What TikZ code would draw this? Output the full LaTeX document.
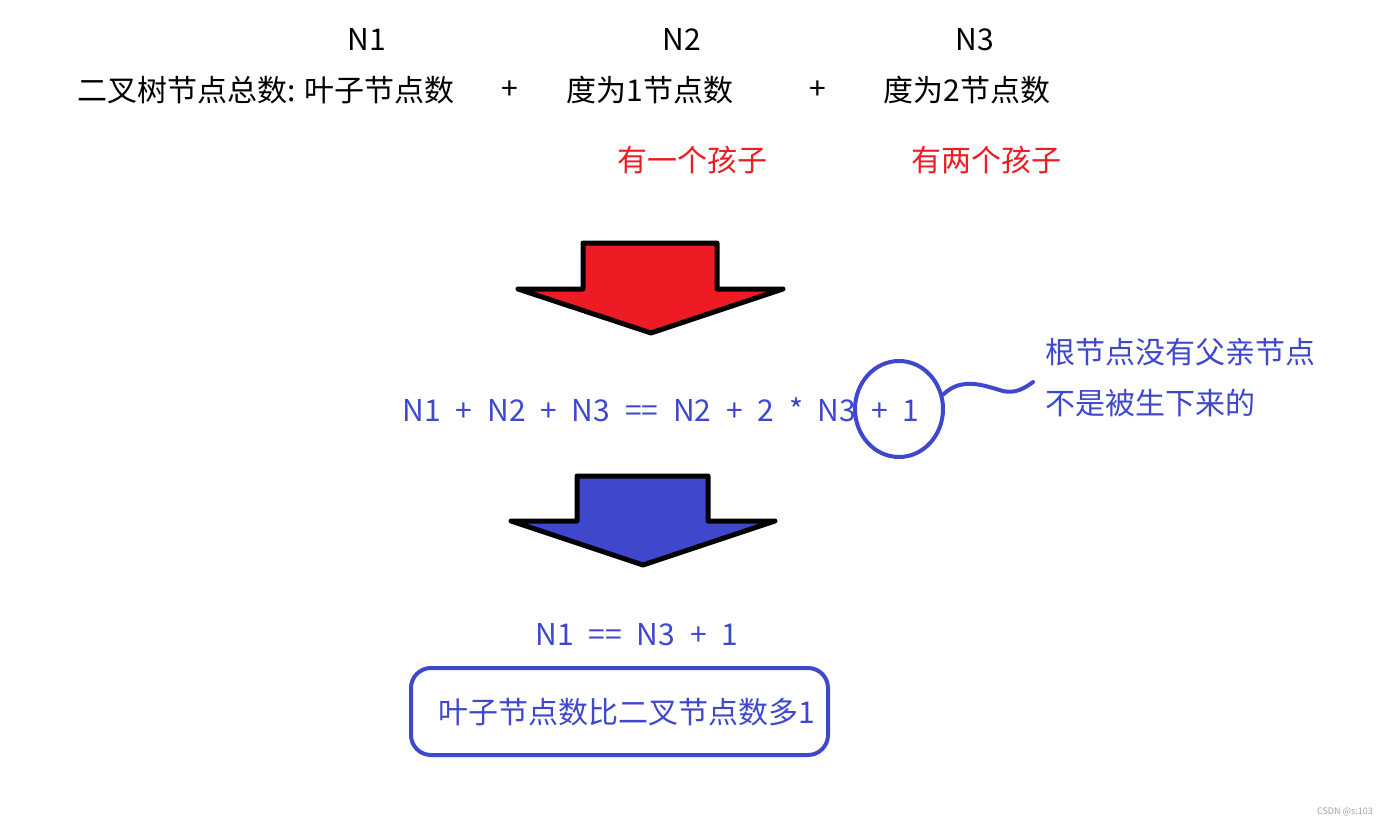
\documentclass[tikz,border=0pt]{standalone}
\usepackage{fontspec}
\setmainfont{Noto Sans CJK SC}
\newfontfamily\eqfont[WordSpace=2.2]{Noto Sans CJK SC}
\usetikzlibrary{shapes.geometric}
\definecolor{pblue}{HTML}{3F48CC}
\definecolor{pred}{HTML}{ED1C24}
\definecolor{wmgray}{HTML}{A0A0A0}
\begin{document}
\begin{tikzpicture}[x=1pt,y=-1pt,
  txt/.style={inner sep=0pt, font=\fontsize{30}{36}\selectfont},
  eqtxt/.style={inner sep=0pt, text=pblue, font=\eqfont\fontsize{30}{36}\selectfont},
  bigarrow/.style={draw=black, line width=5pt, line join=round},
  bluepen/.style={draw=pblue, line width=4pt}]
\useasboundingbox[fill=white] (0,0) rectangle (1400,824);

% top row
\node[txt] (n1) at (367,40) {N1};
\node[txt] (n2) at (682,40) {N2};
\node[txt] (n3) at (975,40) {N3};
\node[txt,anchor=west] (total) at (77,90) {二叉树节点总数: 叶子节点数};
\node[txt] (p1) at (510,90) {+};
\node[txt] (d1) at (650,90) {度为1节点数};
\node[txt] (p2) at (818,90) {+};
\node[txt] (d2) at (967,90) {度为2节点数};
\node[txt,text=pred] (c1) at (692,160) {有一个孩子};
\node[txt,text=pred] (c2) at (986,160) {有两个孩子};

% red arrow
\draw[bigarrow, fill=pred] (583,243) -- (717,243) -- (717,289) -- (783,289) -- (651,333) -- (518,289) -- (583,289) -- cycle;

% equation
\node[eqtxt] (eq1) at (661,410) {N1 + N2 + N3 == N2 + 2 * N3 + 1};
\node[bluepen, ellipse, inner sep=0pt, minimum width=88pt, minimum height=96pt] (circ) at (899,409) {};
\coordinate (sqend) at (1033,382);
\draw[pblue, line width=4pt, line cap=round] (circ.18) .. controls (962,376) and (985,386) .. (1003,391) .. controls (1015,394) and (1025,388) .. (sqend);
\node[txt,text=pblue,anchor=west] (a1) at (1045,352) {根节点没有父亲节点};
\node[txt,text=pblue,anchor=west] (a2) at (1045,403) {不是被生下来的};

% blue arrow
\draw[bigarrow, fill=pblue] (577,476) -- (708,476) -- (708,521) -- (775,521) -- (643,565) -- (511,521) -- (577,521) -- cycle;

% result
\node[eqtxt] (eq2) at (637,635) {N1 == N3 + 1};
\node[bluepen, rounded corners=20pt, minimum width=417pt, minimum height=87pt, inner sep=0pt] (box) at (619.5,711.5) {};
\node[txt,text=pblue] (res) at (627,712) {叶子节点数比二叉节点数多1};

\node[inner sep=0pt, text=wmgray, font=\fontsize{9}{11}\selectfont] (wm) at (1345,812) {CSDN @s:103};
\end{tikzpicture}
\end{document}
